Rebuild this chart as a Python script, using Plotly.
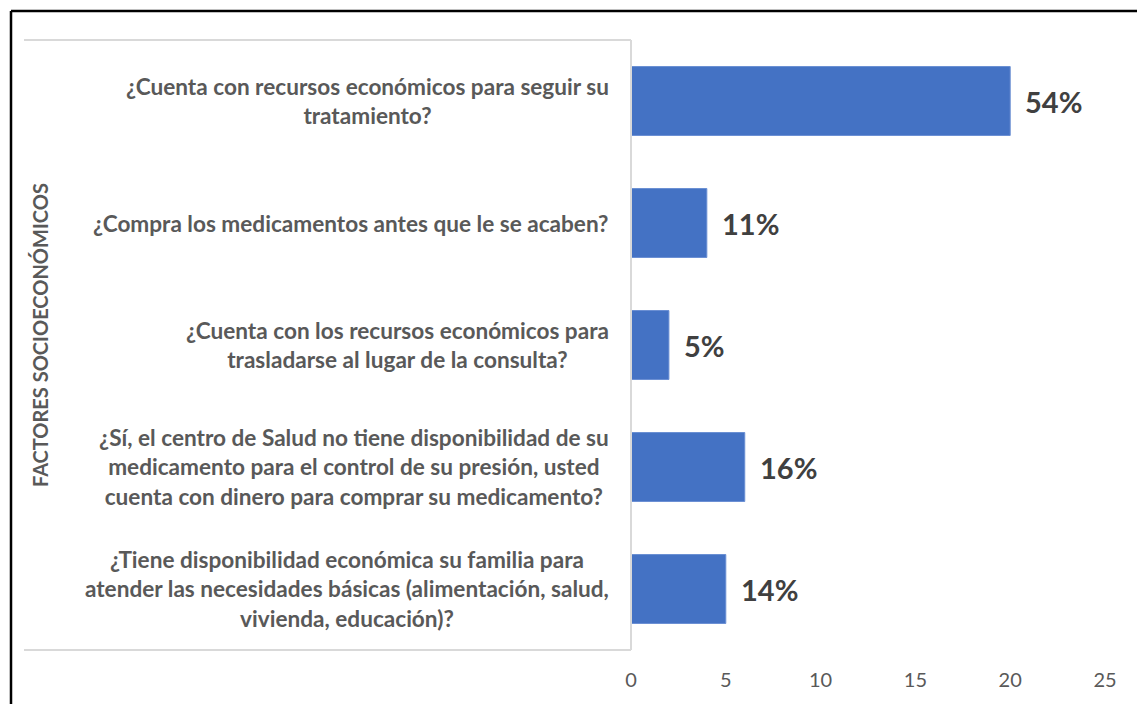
import plotly.graph_objects as go

categories = [
    "¿Cuenta con recursos económicos para seguir su<br>tratamiento?",
    "¿Compra los medicamentos antes que le se acaben?",
    "¿Cuenta con los recursos económicos para<br>trasladarse al lugar de la consulta?",
    "¿Sí, el centro de Salud no tiene disponibilidad de su<br>medicamento para el control de su presión, usted<br>cuenta con dinero para comprar su medicamento?",
    "¿Tiene disponibilidad económica su familia para<br>atender las necesidades básicas (alimentación, salud,<br>vivienda, educación)?",
]
values = [20, 4, 2, 6, 5]
pct_labels = ["54%", "11%", "5%", "16%", "14%"]
x_ticks = [0, 5, 10, 15, 20, 25]
axis_title = "FACTORES SOCIOECONÓMICOS"

W, H = 1137, 704
L, R, T, B = 631, 32, 40, 54
pw, ph = W - L - R, H - T - B

def px_x(px):
    return (px - L) / pw

def px_y(py):
    return (H - B - py) / ph

FONT = "Lato"
fig = go.Figure()
fig.add_trace(go.Bar(
    y=list(range(len(categories))), x=values, orientation="h",
    marker=dict(color="#4472C4", line=dict(color="#6a8fd3", width=1)),
    width=0.565, hoverinfo="skip",
))

ann = []
for i, (c, v, lab) in enumerate(zip(categories, values, pct_labels)):
    ann.append(dict(x=0, xref="x", y=i, yref="y", text="<b>" + c + "</b>",
                    showarrow=False, xanchor="right", align="center", xshift=-20,
                    font=dict(family=FONT, size=22.6, color="#595959")))
    ann.append(dict(x=v, xref="x", y=i, yref="y", text="<b>" + lab + "</b>",
                    showarrow=False, xanchor="left", xshift=13,
                    font=dict(family=FONT, size=29, color="#404040")))
ann.append(dict(x=px_x(40), xref="paper", y=px_y(335), yref="paper",
                xanchor="center", yanchor="middle",
                text="<b>" + axis_title + "</b>", textangle=-90, showarrow=False,
                font=dict(family=FONT, size=20, color="#595959")))

shapes = [
    dict(type="line", xref="paper", yref="paper", x0=px_x(24), x1=0, y0=1, y1=1,
         line=dict(color="#d9d9d9", width=2)),
    dict(type="line", xref="paper", yref="paper", x0=px_x(24), x1=0, y0=0, y1=0,
         line=dict(color="#d9d9d9", width=2)),
    dict(type="line", xref="paper", yref="paper", x0=0, x1=0, y0=0, y1=1,
         line=dict(color="#d9d9d9", width=2)),
    dict(type="line", xref="paper", yref="paper", x0=px_x(11), x1=px_x(1140), y0=px_y(11), y1=px_y(11),
         line=dict(color="#000000", width=2.5)),
    dict(type="line", xref="paper", yref="paper", x0=px_x(11), x1=px_x(11), y0=px_y(11), y1=px_y(710),
         line=dict(color="#000000", width=2.5)),
]

fig.update_layout(
    width=W, height=H, margin=dict(l=L, r=R, t=T, b=B),
    paper_bgcolor="white", plot_bgcolor="white", showlegend=False,
    annotations=ann, shapes=shapes,
    xaxis=dict(range=[0, 25], tickvals=x_ticks, showgrid=False, zeroline=False,
               showline=False, ticklabelstandoff=16,
               tickfont=dict(family=FONT, size=20, color="#595959")),
    yaxis=dict(range=[len(categories) - 0.5, -0.5], showticklabels=False,
               showgrid=False, zeroline=False, showline=False),
)
fig.write_html("out.html")
